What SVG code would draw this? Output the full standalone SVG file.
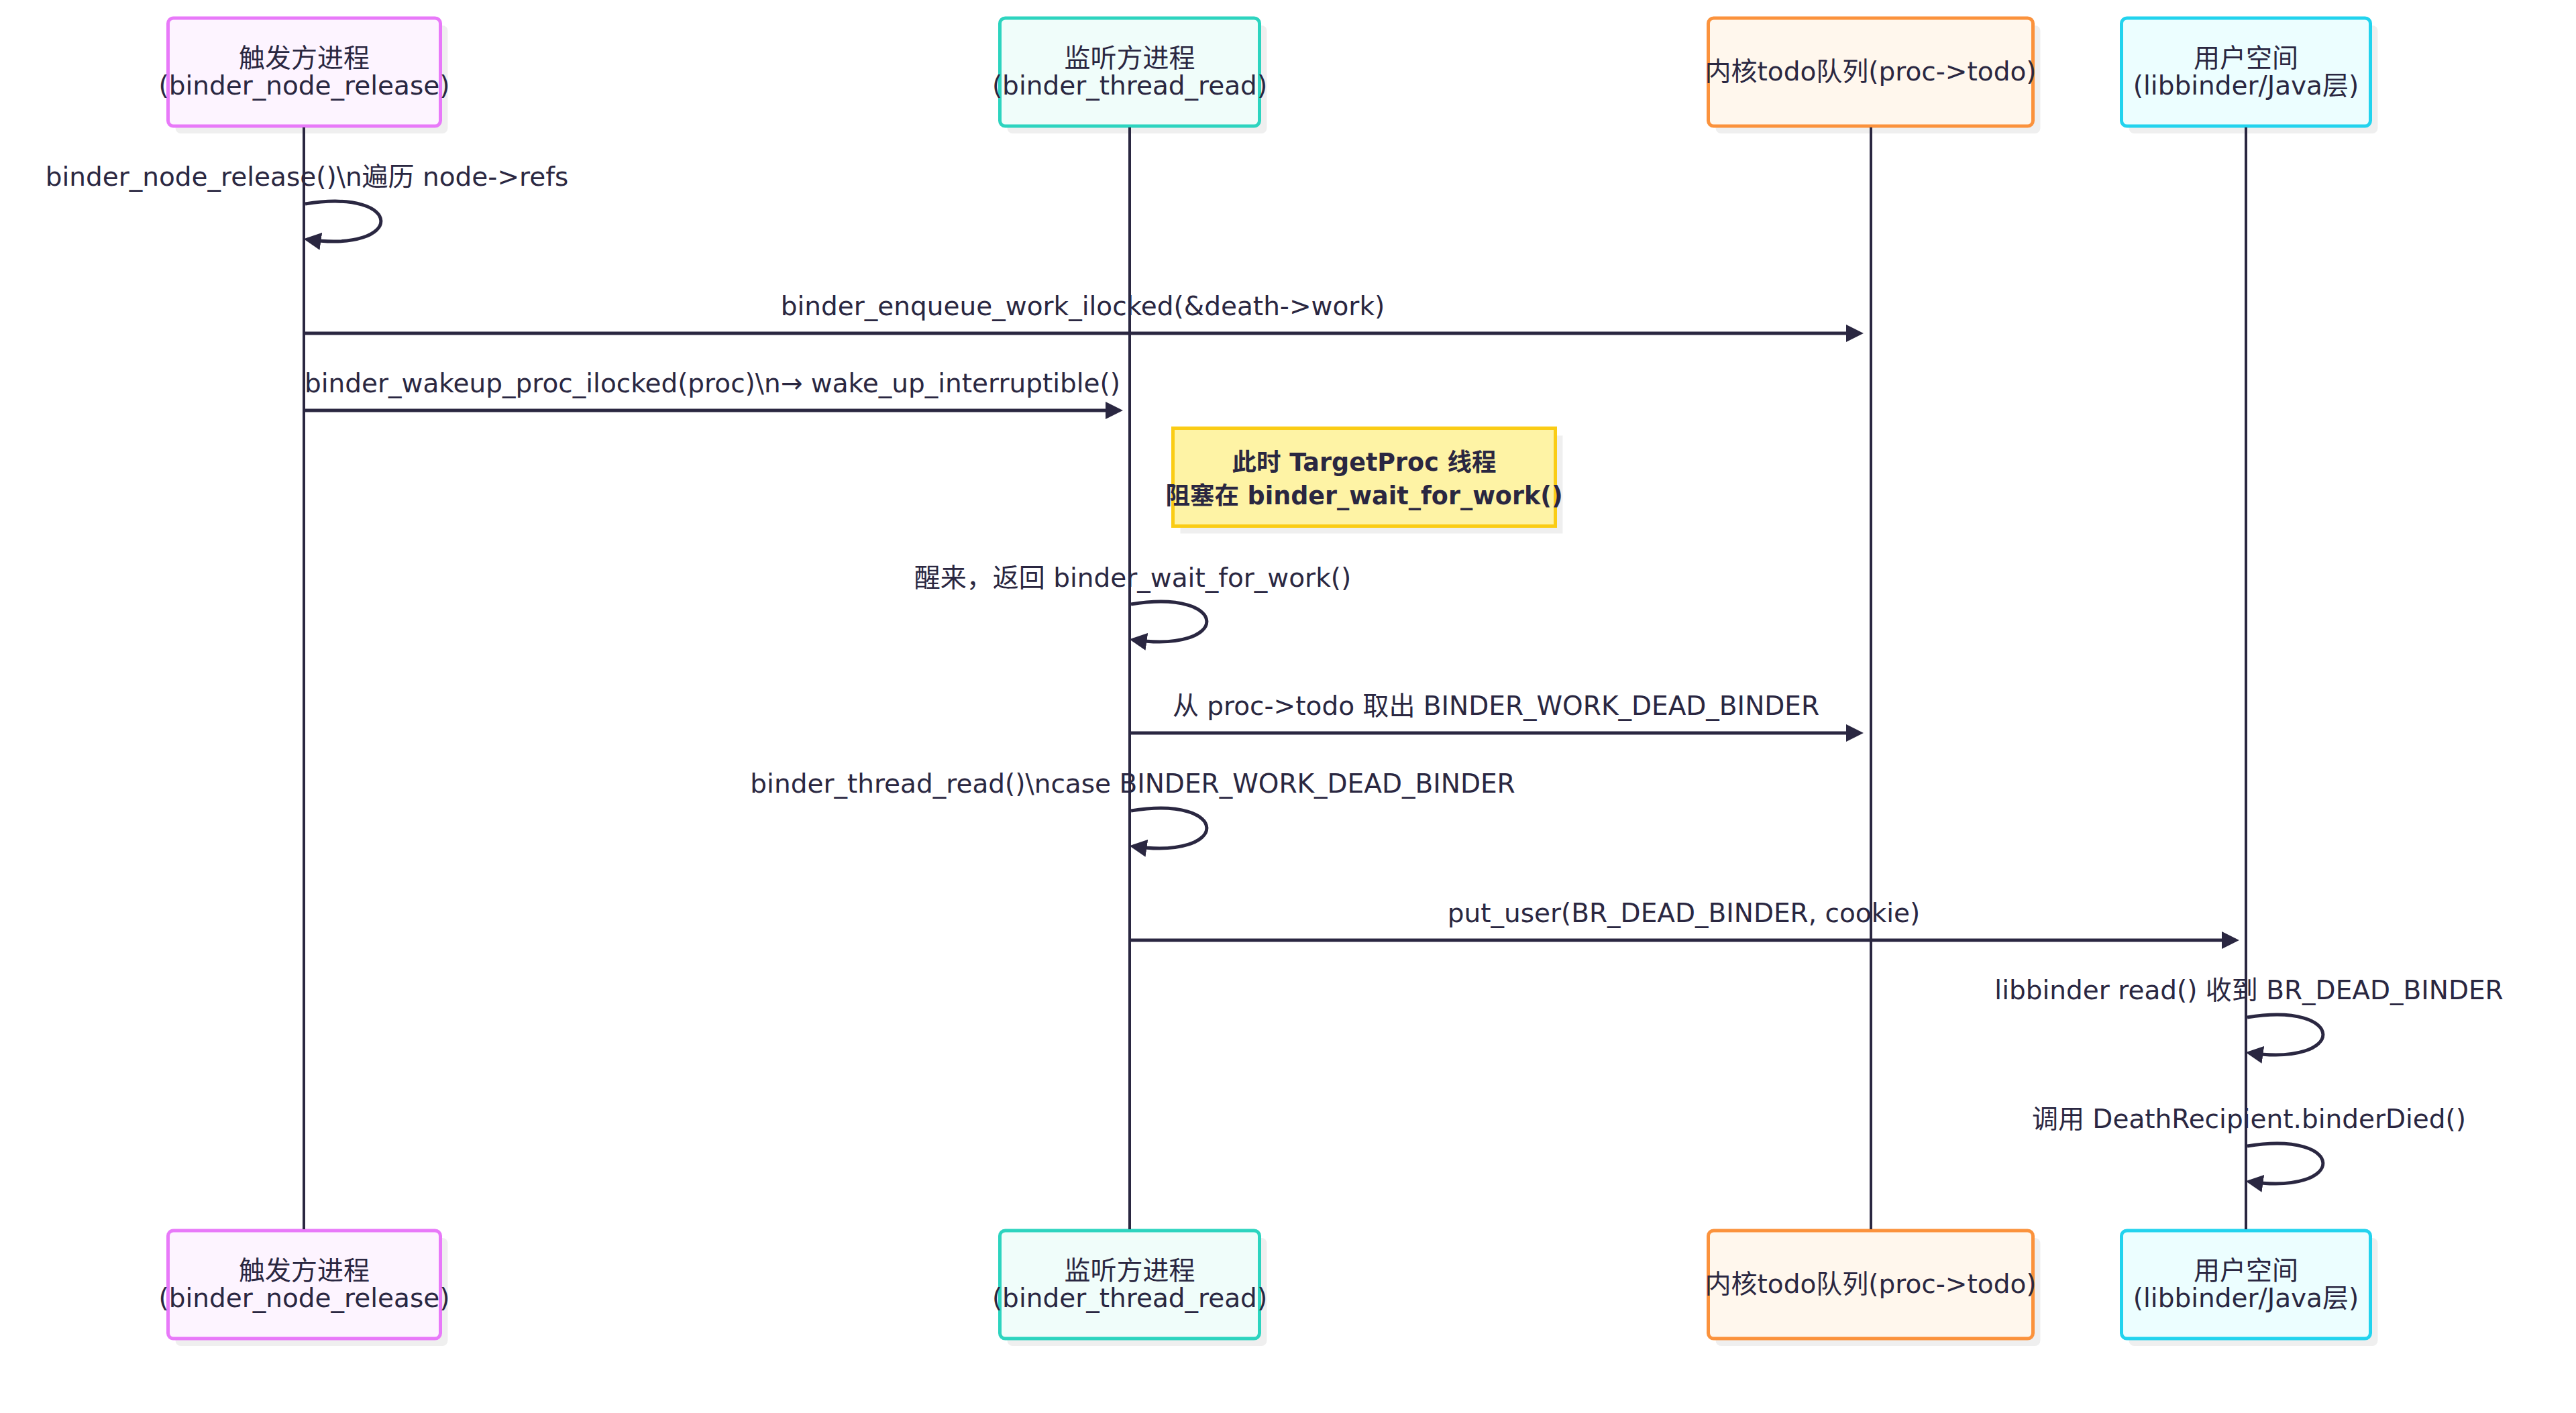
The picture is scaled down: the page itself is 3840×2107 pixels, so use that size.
<svg xmlns="http://www.w3.org/2000/svg" width="3840" height="2107" viewBox="0 0 3840 2107">
<style>
text{font-family:"DejaVu Sans","Noto Sans CJK SC",sans-serif;font-size:39px;fill:#2a2741;text-anchor:middle}
.shadow{fill:#efefef;stroke:none}
.actor{stroke-width:5}
.a1{fill:#fdf4ff;stroke:#e879f9}
.a2{fill:#f0fdfa;stroke:#2dd4bf}
.a3{fill:#fff7ed;stroke:#fb923c}
.a4{fill:#ecfeff;stroke:#22d3ee}
.lifeline{stroke:#2a2741;stroke-width:4;fill:none}
.msg{stroke:#2a2741;stroke-width:5;fill:none;marker-end:url(#arrow)}
.note{fill:#fef3a5;stroke:#facc15;stroke-width:5}
.notetext{font-weight:bold;font-size:36.5px}
</style>
<defs>
<marker id="arrow" viewBox="0 0 10 10" refX="7.9" refY="5" markerWidth="26" markerHeight="26" markerUnits="userSpaceOnUse" orient="auto">
<path d="M0,0 L10,5 L0,10 z" fill="#2a2741"/>
</marker>
</defs>
<rect width="3840" height="2107" fill="#ffffff"/>

<g id="actor-trigger-top">
<rect class="shadow" x="261.5" y="38" width="406" height="161" rx="8"/>
<rect class="actor a1" x="250.5" y="27" width="406" height="161" rx="8"/>
<text x="453.5" y="100">触发方进程</text>
<text x="453.5" y="141">(binder_node_release)</text>
</g>
<g id="actor-listener-top">
<rect class="shadow" x="1501.5" y="38" width="387" height="161" rx="8"/>
<rect class="actor a2" x="1490.5" y="27" width="387" height="161" rx="8"/>
<text x="1684" y="100">监听方进程</text>
<text x="1684" y="141">(binder_thread_read)</text>
</g>
<g id="actor-todo-top">
<rect class="shadow" x="2557.5" y="38" width="484" height="161" rx="8"/>
<rect class="actor a3" x="2546.5" y="27" width="484" height="161" rx="8"/>
<text x="2788.5" y="120">内核todo队列(proc-&gt;todo)</text>
</g>
<g id="actor-user-top">
<rect class="shadow" x="3173.5" y="38" width="371" height="161" rx="8"/>
<rect class="actor a4" x="3162.5" y="27" width="371" height="161" rx="8"/>
<text x="3348" y="100">用户空间</text>
<text x="3348" y="141">(libbinder/Java层)</text>
</g>

<g id="actor-trigger-bottom">
<rect class="shadow" x="261.5" y="1846" width="406" height="161" rx="8"/>
<rect class="actor a1" x="250.5" y="1835" width="406" height="161" rx="8"/>
<text x="453.5" y="1908">触发方进程</text>
<text x="453.5" y="1949">(binder_node_release)</text>
</g>
<g id="actor-listener-bottom">
<rect class="shadow" x="1501.5" y="1846" width="387" height="161" rx="8"/>
<rect class="actor a2" x="1490.5" y="1835" width="387" height="161" rx="8"/>
<text x="1684" y="1908">监听方进程</text>
<text x="1684" y="1949">(binder_thread_read)</text>
</g>
<g id="actor-todo-bottom">
<rect class="shadow" x="2557.5" y="1846" width="484" height="161" rx="8"/>
<rect class="actor a3" x="2546.5" y="1835" width="484" height="161" rx="8"/>
<text x="2788.5" y="1928">内核todo队列(proc-&gt;todo)</text>
</g>
<g id="actor-user-bottom">
<rect class="shadow" x="3173.5" y="1846" width="371" height="161" rx="8"/>
<rect class="actor a4" x="3162.5" y="1835" width="371" height="161" rx="8"/>
<text x="3348" y="1908">用户空间</text>
<text x="3348" y="1949">(libbinder/Java层)</text>
</g>

<g id="lifelines">
<line class="lifeline" x1="453" y1="190" x2="453" y2="1833"/>
<line class="lifeline" x1="1684" y1="190" x2="1684" y2="1833"/>
<line class="lifeline" x1="2789" y1="190" x2="2789" y2="1833"/>
<line class="lifeline" x1="3348" y1="190" x2="3348" y2="1833"/>
</g>

<g id="note-blocked">
<rect class="shadow" x="1759.5" y="649.5" width="570" height="146"/>
<rect class="note" x="1748.5" y="638.5" width="570" height="146"/>
<text class="notetext" x="2033.5" y="702">此时 TargetProc 线程</text>
<text class="notetext" x="2033.5" y="752">阻塞在 binder_wait_for_work()</text>
</g>

<g id="connectors">
<path class="msg" d="M455,304 C605,280 605,378 458,357"/>
<text x="457.5" y="277">binder_node_release()\n遍历 node-&gt;refs</text>

<path class="msg" d="M455,497 L2772.5,497"/>
<text x="1614" y="470">binder_enqueue_work_ilocked(&amp;death-&gt;work)</text>

<path class="msg" d="M455,612 L1668.5,612"/>
<text x="1062" y="585">binder_wakeup_proc_ilocked(proc)\n→ wake_up_interruptible()</text>

<path class="msg" d="M1686,901 C1836,877 1836,975 1689,954"/>
<text x="1688.5" y="875">醒来，返回 binder_wait_for_work()</text>

<path class="msg" d="M1686,1093 L2772.5,1093"/>
<text x="2230" y="1066">从 proc-&gt;todo 取出 BINDER_WORK_DEAD_BINDER</text>

<path class="msg" d="M1686,1209 C1836,1185 1836,1283 1689,1262"/>
<text x="1688.5" y="1182">binder_thread_read()\ncase BINDER_WORK_DEAD_BINDER</text>

<path class="msg" d="M1686,1402 L3332.5,1402"/>
<text x="2510" y="1375">put_user(BR_DEAD_BINDER, cookie)</text>

<path class="msg" d="M3350,1517 C3500,1493 3500,1591 3353,1570"/>
<text x="3352.5" y="1490">libbinder read() 收到 BR_DEAD_BINDER</text>

<path class="msg" d="M3350,1709 C3500,1685 3500,1783 3353,1762"/>
<text x="3352.5" y="1682">调用 DeathRecipient.binderDied()</text>
</g>
</svg>
